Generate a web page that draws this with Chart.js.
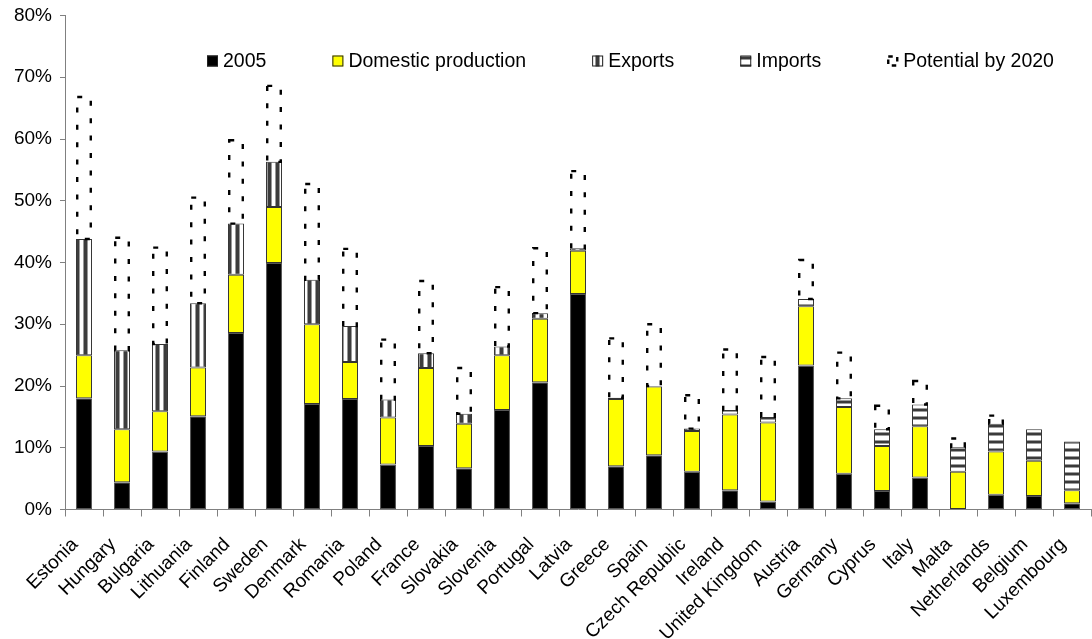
<!DOCTYPE html>
<html>
<head>
<meta charset="utf-8">
<title>Renewable energy shares by country</title>
<style>
  html, body { margin: 0; padding: 0; background: #ffffff; }
  #wrap { width: 1092px; height: 639px; }
</style>
<script src="https://cdn.jsdelivr.net/npm/chart.js@4.4.1/dist/chart.umd.min.js"></script>
</head>
<body>
<div id="wrap"><canvas id="chart" width="1092" height="639"></canvas></div>
<script>
// Countries, in the order they are plotted
const countries = [
  'Estonia', 'Hungary', 'Bulgaria', 'Lithuania', 'Finland', 'Sweden', 'Denmark',
  'Romania', 'Poland', 'France', 'Slovakia', 'Slovenia', 'Portugal', 'Latvia',
  'Greece', 'Spain', 'Czech Republic', 'Ireland', 'United Kingdom', 'Austria',
  'Germany', 'Cyprus', 'Italy', 'Malta', 'Netherlands', 'Belgium', 'Luxembourg'
];

// Share in 2005 (%)
const share2005 = [
  18.0, 4.4, 9.4, 15.1, 28.6, 39.9, 17.1, 17.9, 7.3, 10.3, 6.7, 16.1, 20.6, 34.9,
  7.0, 8.8, 6.1, 3.1, 1.3, 23.3, 5.8, 3.0, 5.2, 0, 2.4, 2.2, 1.0
];

// Additional domestic production (percentage points)
const domesticProduction = [
  7.0, 8.6, 6.5, 7.9, 9.4, 9.1, 12.9, 6.0, 7.6, 12.6, 7.2, 8.9, 10.3, 7.0,
  10.9, 11.1, 6.6, 12.3, 12.8, 9.6, 10.8, 7.3, 8.3, 6.1, 7.0, 5.7, 2.1
];

// Exports (percentage points)
const exportsShare = [
  18.8, 12.8, 10.9, 10.4, 8.3, 7.3, 7.2, 5.8, 2.9, 2.4, 1.6, 1.4, 0.9, 0.4,
  0.2, 0.1, 0.4, 0, 0, 0, 0, 0, 0, 0, 0, 0, 0
];

// Imports (percentage points)
const importsShare = [
  0, 0, 0, 0, 0, 0, 0, 0, 0, 0, 0, 0, 0, 0,
  0, 0, 0, 0.7, 0.9, 1.2, 1.4, 2.7, 3.5, 4.0, 4.5, 5.1, 7.9
];

// Potential share by 2020 (%); no figure for Belgium and Luxembourg
const potential2020 = [
  67.0, 44.2, 42.6, 50.7, 60.0, 68.8, 52.9, 42.4, 27.7, 37.2, 23.1, 36.2, 42.5, 55.0,
  27.9, 30.2, 18.7, 26.1, 24.9, 40.6, 25.6, 17.0, 21.0, 11.7, 15.4, null, null
];

// Y axis ticks (%)
const yTicks = [0, 10, 20, 30, 40, 50, 60, 70, 80];

const FONT = '"Liberation Sans", Arial, Helvetica, sans-serif';
const FONT_SIZE = 19;
const LEGEND_FONT_SIZE = 19.5;

// Striped fills for the trade segments
function stripePattern(vertical) {
  const c = document.createElement('canvas');
  c.width = 8; c.height = 8;
  const g = c.getContext('2d');
  g.fillStyle = '#ffffff';
  g.fillRect(0, 0, 8, 8);
  if (vertical) {
    g.fillStyle = '#999999'; g.fillRect(3, 0, 1, 8); g.fillRect(7, 0, 1, 8);
    g.fillStyle = '#3c3c3c'; g.fillRect(4, 0, 3, 8);
  } else {
    g.fillStyle = '#9c9c9c'; g.fillRect(0, 0, 8, 1); g.fillRect(0, 3, 8, 1);
    g.fillStyle = '#3a3a3a'; g.fillRect(0, 1, 8, 2);
  }
  return g.createPattern(c, 'repeat');
}

const orNull = v => (v ? v : null);

// Height of the dashed "potential" box: from the top of the stack up to the 2020 figure
const potentialGap = potential2020.map((p, i) =>
  p == null ? null : p - (share2005[i] + domesticProduction[i] + exportsShare[i] + importsShare[i])
);

// Dashed outline for the "Potential by 2020" segments
const dashedTargets = {
  id: 'dashedTargets',
  afterDatasetsDraw(chart) {
    const meta = chart.getDatasetMeta(4);
    const ctx = chart.ctx;
    ctx.save();
    ctx.strokeStyle = '#000000';
    ctx.lineWidth = 2.4;
    ctx.lineCap = 'butt';
    ctx.setLineDash([5, 12.4]);
    meta.data.forEach((bar, i) => {
      if (potentialGap[i] == null) return;
      const p = bar.getProps(['x', 'y', 'base', 'width'], true);
      const l = p.x - p.width / 2 + 1.2;
      const r = p.x + p.width / 2 - 1.2;
      const t = p.y + 1.2;
      const b = p.base;
      ctx.beginPath();
      ctx.moveTo(l, t);
      ctx.lineTo(r, t);
      ctx.lineTo(r, b);
      ctx.lineTo(l, b);
      ctx.closePath();
      ctx.stroke();
    });
    ctx.restore();
  }
};

// One-row legend laid out inside the plot area
const legendRow = {
  id: 'legendRow',
  afterDraw(chart) {
    const ctx = chart.ctx;
    const box = 11, cy = 61, textGap = 5, itemGap = 66;
    let x = 207;
    ctx.save();
    ctx.font = LEGEND_FONT_SIZE + 'px ' + FONT;
    ctx.textBaseline = 'middle';
    ctx.textAlign = 'left';
    chart.data.datasets.forEach((ds, i) => {
      const top = cy - box / 2;
      if (i === 4) {
        ctx.strokeStyle = '#000000';
        ctx.lineWidth = 2.4;
        ctx.setLineDash([4.5, 5]);
        ctx.strokeRect(x + 1, top + 1, box - 2, box - 2);
        ctx.setLineDash([]);
      } else {
        ctx.fillStyle = ds.backgroundColor;
        ctx.fillRect(x, top, box, box);
        ctx.strokeStyle = '#222222';
        ctx.lineWidth = 1;
        ctx.strokeRect(x + 0.5, top + 0.5, box - 1, box - 1);
      }
      ctx.fillStyle = '#000000';
      ctx.fillText(ds.label, x + box + textGap, cy + 1);
      x += box + textGap + ctx.measureText(ds.label).width + itemGap;
    });
    ctx.restore();
  }
};

const ctx = document.getElementById('chart').getContext('2d');

const barStyle = {
  barPercentage: 0.42,
  categoryPercentage: 1.0,
  borderWidth: 1,
  borderSkipped: false
};

new Chart(ctx, {
  type: 'bar',
  data: {
    labels: countries,
    datasets: [
      Object.assign({ label: '2005', data: share2005.map(orNull),
        backgroundColor: '#000000', borderColor: '#555555' }, barStyle),
      Object.assign({ label: 'Domestic production', data: domesticProduction.map(orNull),
        backgroundColor: '#ffff00', borderColor: '#333333' }, barStyle),
      Object.assign({ label: 'Exports', data: exportsShare.map(orNull),
        backgroundColor: stripePattern(true), borderColor: '#333333' }, barStyle),
      Object.assign({ label: 'Imports', data: importsShare.map(orNull),
        backgroundColor: stripePattern(false), borderColor: '#333333' }, barStyle),
      Object.assign({ label: 'Potential by 2020', data: potentialGap,
        backgroundColor: 'rgba(0,0,0,0)', borderColor: 'rgba(0,0,0,0)' }, barStyle, { borderWidth: 0 })
    ]
  },
  options: {
    responsive: false,
    animation: false,
    devicePixelRatio: 1,
    layout: { padding: { top: 15.5, right: 1, bottom: 0, left: 0 } },
    plugins: {
      legend: { display: false },
      tooltip: { enabled: false }
    },
    scales: {
      x: {
        stacked: true,
        offset: true,
        grid: { drawOnChartArea: false, drawTicks: true, tickLength: 7, color: '#808080', offset: true },
        border: { color: '#808080', width: 1 },
        ticks: {
          autoSkip: false,
          minRotation: 45,
          maxRotation: 45,
          padding: 17,
          labelOffset: -9,
          color: '#000000',
          font: { family: FONT, size: FONT_SIZE }
        },
        afterFit(scale) {
          scale.height = 129.5;
          scale.paddingLeft = 0;
          scale.paddingRight = 0;
        }
      },
      y: {
        stacked: true,
        min: yTicks[0],
        max: yTicks[yTicks.length - 1],
        afterBuildTicks(scale) { scale.ticks = yTicks.map(v => ({ value: v })); },
        grid: { drawOnChartArea: false, drawTicks: true, tickLength: 5, color: '#808080' },
        border: { color: '#808080', width: 1 },
        ticks: {
          padding: 8,
          color: '#000000',
          font: { family: FONT, size: FONT_SIZE },
          callback: v => v + '%'
        },
        afterFit(scale) {
          scale.width = 65;
          scale.paddingTop = 0;
          scale.paddingBottom = 0;
        }
      }
    }
  },
  plugins: [dashedTargets, legendRow]
});
</script>
</body>
</html>
